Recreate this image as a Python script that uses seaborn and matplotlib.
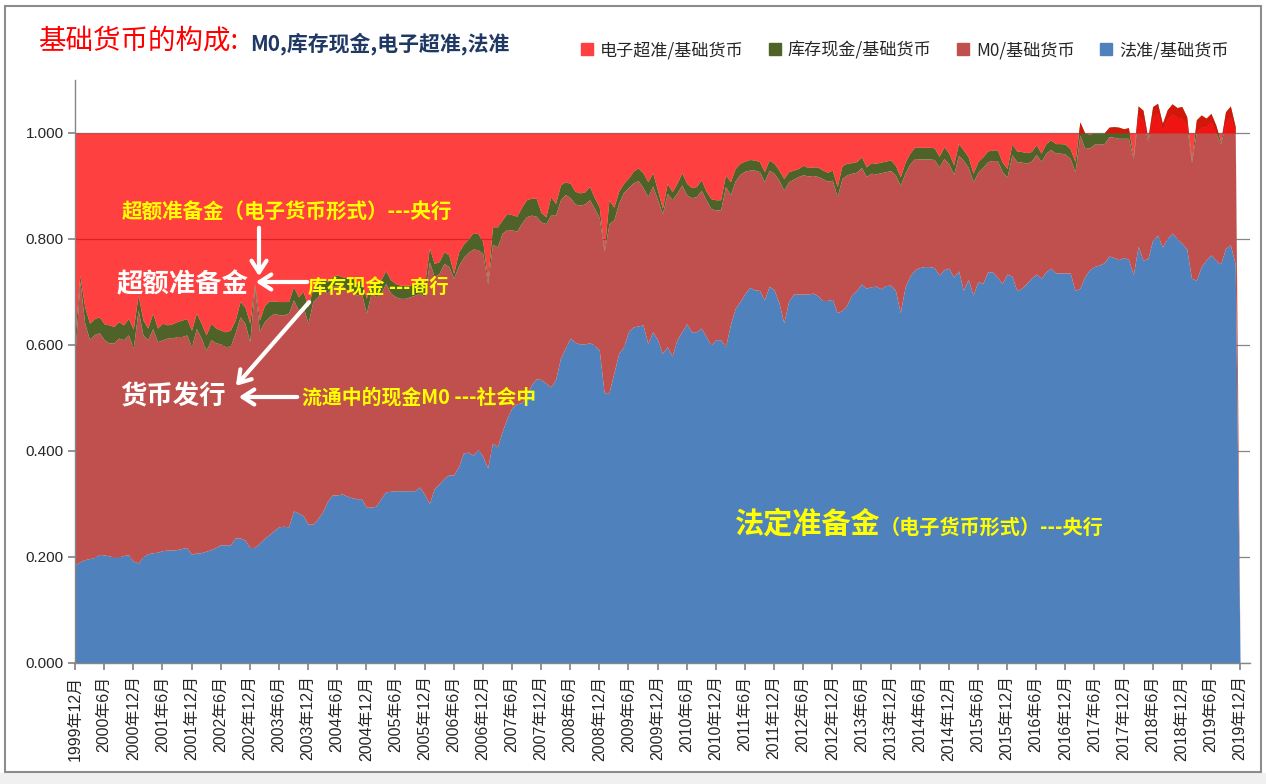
import numpy as np
import matplotlib
matplotlib.use("Agg")
import matplotlib.pyplot as plt
from matplotlib.patches import Patch, Rectangle
from matplotlib.ticker import FormatStrFormatter
import seaborn as sns

# monthly shares of base money, 1999-12 ... 2019-12 (2019-12 has no data yet)
# 法准/基础货币
fa = [0.185,
      0.191, 0.195, 0.197, 0.199, 0.205, 0.204, 0.202, 0.200, 0.200, 0.203, 0.204, 0.192,  # 2000
      0.189, 0.200, 0.206, 0.208, 0.209, 0.212, 0.213, 0.213, 0.214, 0.216, 0.218, 0.205,  # 2001
      0.208, 0.208, 0.211, 0.214, 0.218, 0.223, 0.223, 0.223, 0.236, 0.236, 0.232, 0.218,  # 2002
      0.218, 0.226, 0.235, 0.242, 0.250, 0.257, 0.258, 0.257, 0.287, 0.283, 0.278, 0.262,  # 2003
      0.262, 0.272, 0.285, 0.305, 0.317, 0.317, 0.319, 0.315, 0.312, 0.310, 0.310, 0.294,  # 2004
      0.294, 0.296, 0.310, 0.323, 0.324, 0.325, 0.325, 0.325, 0.325, 0.325, 0.332, 0.318,  # 2005
      0.301, 0.329, 0.338, 0.348, 0.355, 0.355, 0.370, 0.396, 0.398, 0.392, 0.403, 0.390,  # 2006
      0.368, 0.415, 0.408, 0.437, 0.462, 0.482, 0.489, 0.491, 0.505, 0.525, 0.536, 0.535,  # 2007
      0.528, 0.521, 0.535, 0.575, 0.594, 0.613, 0.605, 0.602, 0.602, 0.604, 0.600, 0.590,  # 2008
      0.510, 0.510, 0.547, 0.584, 0.597, 0.625, 0.634, 0.636, 0.638, 0.603, 0.625, 0.610,  # 2009
      0.584, 0.597, 0.579, 0.610, 0.625, 0.640, 0.625, 0.625, 0.632, 0.616, 0.600, 0.610,  # 2010
      0.610, 0.597, 0.638, 0.669, 0.682, 0.697, 0.709, 0.704, 0.703, 0.685, 0.711, 0.704,  # 2011
      0.680, 0.642, 0.682, 0.696, 0.696, 0.696, 0.696, 0.698, 0.693, 0.684, 0.684, 0.686,  # 2012
      0.661, 0.665, 0.675, 0.695, 0.703, 0.715, 0.707, 0.710, 0.711, 0.706, 0.712, 0.713,  # 2013
      0.703, 0.661, 0.710, 0.730, 0.742, 0.746, 0.748, 0.748, 0.746, 0.732, 0.742, 0.745,  # 2014
      0.728, 0.740, 0.703, 0.724, 0.694, 0.720, 0.716, 0.738, 0.738, 0.728, 0.716, 0.734,  # 2015
      0.730, 0.703, 0.707, 0.716, 0.726, 0.734, 0.726, 0.738, 0.745, 0.736, 0.736, 0.736,  # 2016
      0.736, 0.703, 0.707, 0.729, 0.742, 0.748, 0.751, 0.755, 0.768, 0.765, 0.761, 0.765,  # 2017
      0.762, 0.732, 0.786, 0.760, 0.763, 0.798, 0.807, 0.785, 0.801, 0.811, 0.801, 0.792,  # 2018
      0.782, 0.726, 0.722, 0.748, 0.760, 0.770, 0.760, 0.753, 0.782, 0.789, 0.753, 0.000]  # 2019

# M0/基础货币
m0 = [0.400,
      0.529, 0.446, 0.413, 0.421, 0.418, 0.406, 0.402, 0.404, 0.413, 0.407, 0.415, 0.402,
      0.477, 0.419, 0.404, 0.423, 0.397, 0.398, 0.400, 0.400, 0.402, 0.400, 0.401, 0.392,
      0.423, 0.405, 0.379, 0.396, 0.386, 0.379, 0.374, 0.375, 0.387, 0.417, 0.409, 0.388,
      0.493, 0.400, 0.409, 0.411, 0.410, 0.400, 0.399, 0.403, 0.398, 0.383, 0.394, 0.379,
      0.420, 0.419, 0.419, 0.393, 0.394, 0.394, 0.392, 0.389, 0.395, 0.384, 0.388, 0.366,
      0.404, 0.395, 0.388, 0.393, 0.374, 0.366, 0.363, 0.363, 0.366, 0.369, 0.366, 0.373,
      0.456, 0.400, 0.397, 0.406, 0.393, 0.371, 0.380, 0.369, 0.377, 0.389, 0.377, 0.382,
      0.348, 0.375, 0.377, 0.374, 0.356, 0.335, 0.326, 0.339, 0.337, 0.320, 0.307, 0.297,
      0.301, 0.324, 0.310, 0.299, 0.290, 0.265, 0.261, 0.262, 0.264, 0.270, 0.258, 0.250,
      0.266, 0.319, 0.289, 0.284, 0.291, 0.272, 0.272, 0.274, 0.259, 0.277, 0.275, 0.264,
      0.264, 0.289, 0.295, 0.277, 0.277, 0.243, 0.253, 0.255, 0.260, 0.258, 0.257, 0.245,
      0.245, 0.302, 0.245, 0.241, 0.240, 0.231, 0.221, 0.226, 0.224, 0.223, 0.219, 0.220,
      0.231, 0.250, 0.226, 0.217, 0.222, 0.225, 0.223, 0.222, 0.225, 0.230, 0.225, 0.225,
      0.219, 0.249, 0.246, 0.229, 0.223, 0.220, 0.211, 0.214, 0.212, 0.219, 0.215, 0.216,
      0.218, 0.240, 0.215, 0.212, 0.210, 0.205, 0.203, 0.203, 0.204, 0.204, 0.210, 0.197,
      0.194, 0.218, 0.245, 0.211, 0.214, 0.206, 0.219, 0.208, 0.210, 0.220, 0.211, 0.183,
      0.229, 0.243, 0.238, 0.227, 0.221, 0.226, 0.220, 0.224, 0.224, 0.226, 0.226, 0.224,
      0.216, 0.224, 0.289, 0.242, 0.230, 0.231, 0.228, 0.225, 0.225, 0.227, 0.229, 0.225,
      0.228, 0.220, 0.248, 0.264, 0.222, 0.232, 0.230, 0.221, 0.226, 0.225, 0.229, 0.236,
      0.233, 0.219, 0.281, 0.263, 0.252, 0.251, 0.240, 0.227, 0.238, 0.242, 0.247, 0.000]

# 库存现金/基础货币
kc = [0.035,
      0.012, 0.031, 0.031, 0.030, 0.030, 0.030, 0.034, 0.031, 0.031, 0.028, 0.031, 0.036,
      0.028, 0.028, 0.022, 0.029, 0.026, 0.031, 0.025, 0.027, 0.028, 0.031, 0.031, 0.031,
      0.029, 0.028, 0.029, 0.031, 0.028, 0.026, 0.028, 0.030, 0.024, 0.029, 0.031, 0.035,
      0.005, 0.021, 0.030, 0.030, 0.023, 0.025, 0.025, 0.022, 0.025, 0.025, 0.029, 0.031,
      0.025, 0.025, 0.022, 0.022, 0.018, 0.021, 0.018, 0.022, 0.022, 0.022, 0.025, 0.028,
      0.025, 0.025, 0.025, 0.024, 0.025, 0.025, 0.025, 0.025, 0.022, 0.022, 0.025, 0.022,
      0.026, 0.025, 0.022, 0.022, 0.022, 0.009, 0.025, 0.025, 0.025, 0.031, 0.030, 0.023,
      0.007, 0.033, 0.038, 0.025, 0.030, 0.029, 0.028, 0.030, 0.032, 0.032, 0.034, 0.018,
      0.013, 0.035, 0.022, 0.028, 0.024, 0.027, 0.024, 0.023, 0.023, 0.025, 0.020, 0.020,
      0.003, 0.045, 0.024, 0.022, 0.017, 0.018, 0.022, 0.024, 0.028, 0.028, 0.025, 0.018,
      0.010, 0.019, 0.015, 0.018, 0.023, 0.022, 0.019, 0.019, 0.020, 0.016, 0.019, 0.019,
      0.019, 0.022, 0.025, 0.023, 0.021, 0.019, 0.020, 0.019, 0.019, 0.019, 0.019, 0.019,
      0.019, 0.022, 0.019, 0.017, 0.015, 0.018, 0.016, 0.016, 0.018, 0.016, 0.017, 0.019,
      0.019, 0.024, 0.022, 0.020, 0.020, 0.020, 0.018, 0.020, 0.020, 0.020, 0.020, 0.020,
      0.018, 0.016, 0.020, 0.020, 0.022, 0.022, 0.022, 0.022, 0.022, 0.020, 0.022, 0.020,
      0.018, 0.022, 0.020, 0.020, 0.016, 0.020, 0.020, 0.020, 0.020, 0.020, 0.018, 0.016,
      0.020, 0.020, 0.020, 0.020, 0.018, 0.018, 0.016, 0.018, 0.018, 0.018, 0.018, 0.019,
      0.018, 0.019, 0.025, 0.029, 0.026, 0.021, 0.021, 0.020, 0.018, 0.020, 0.021, 0.018,
      0.020, 0.003, 0.017, 0.019, 0.005, 0.020, 0.019, 0.012, 0.017, 0.019, 0.018, 0.022,
      0.016, 0.004, 0.022, 0.023, 0.016, 0.016, 0.015, 0.004, 0.020, 0.020, 0.012, 0.000]

tick_labels = ["1999年12月", "2000年6月", "2000年12月", "2001年6月", "2001年12月",
               "2002年6月", "2002年12月", "2003年6月", "2003年12月", "2004年6月",
               "2004年12月", "2005年6月", "2005年12月", "2006年6月", "2006年12月",
               "2007年6月", "2007年12月", "2008年6月", "2008年12月", "2009年6月",
               "2009年12月", "2010年6月", "2010年12月", "2011年6月", "2011年12月",
               "2012年6月", "2012年12月", "2013年6月", "2013年12月", "2014年6月",
               "2014年12月", "2015年6月", "2015年12月", "2016年6月", "2016年12月",
               "2017年6月", "2017年12月", "2018年6月", "2018年12月", "2019年6月",
               "2019年12月"]

fa = np.array(fa)
m0 = np.array(m0)
kc = np.array(kc)
# 电子超准 = 基础货币(=1) - 法准 - M0 - 库存现金 ; negative once the parts overshoot
three = fa + m0 + kc
cz = np.where(three > 0, 1.0 - three, 0.0)
x = np.arange(len(fa))

sns.set_theme(style="white")
plt.rcParams['font.family'] = ['Liberation Sans', 'Noto Sans CJK SC', 'DejaVu Sans']
cjk = ['Noto Sans CJK SC', 'DejaVu Sans']

W, H = 1266, 784
fig = plt.figure(figsize=(W / 100, H / 100), dpi=100)
fig.patch.set_facecolor('white')

def fx(px):
    return px / W

def fy(py):
    return 1 - py / H

# chart frame and grey strip below it
fig.patches.append(Rectangle((0, 0), 1, fy(773), transform=fig.transFigure,
                             facecolor='#f0f0f0', edgecolor='none', zorder=-10))
fig.patches.append(Rectangle((fx(5), fy(772)), fx(1261) - fx(5), fy(6) - fy(772),
                             transform=fig.transFigure, facecolor='white',
                             edgecolor='#8c8c8c', lw=1.5, zorder=-9))

ax = fig.add_axes([fx(75), fy(663), fx(1250) - fx(75), fy(80) - fy(663)])
ax.set_zorder(2)
ax.set_facecolor('none')

c_fa, c_m0, c_kc, c_cz = '#4F81BD', '#C0504D', '#4F6228', '#FF0000'
polys = ax.stackplot(x, fa, m0, kc, cz, colors=[c_fa, c_m0, c_kc, c_cz], lw=0)
polys[3].set_alpha(0.75)

ax.set_xlim(0, 242.05)
ax.set_ylim(0, 1.1)
ax.set_yticks([0, 0.2, 0.4, 0.6, 0.8, 1.0])
ax.yaxis.set_major_formatter(FormatStrFormatter('%.3f'))
ax.set_xticks(np.arange(0, 241, 6))
ax.set_xticklabels(tick_labels, rotation=90, fontsize=11.5)
ax.tick_params(axis='y', labelsize=11, length=5, color='#868686', direction='out', left=True, pad=3)
ax.tick_params(axis='x', length=5, color='#868686', direction='out', bottom=True, pad=4)
ax.set_axisbelow(True)
ax.yaxis.grid(True, color='#868686', lw=0.9)
ax.xaxis.grid(False)
sns.despine(ax=ax, top=True, right=True)
for s in ['left', 'bottom']:
    ax.spines[s].set_color('#868686')
    ax.spines[s].set_linewidth(1.0)

# title
fig.text(fx(38), fy(41), "基础货币的构成:", color='#FF0000', fontsize=19.8,
         family=cjk, weight='medium', va='center', ha='left')
fig.text(fx(250), fy(44), "M0,库存现金,电子超准,法准", color='#1F3864', fontsize=15,
         family=cjk, weight='bold', va='center', ha='left')

# legend
handles = [Patch(color='#FF4040'), Patch(color=c_kc), Patch(color=c_m0), Patch(color=c_fa)]
labels = ["电子超准/基础货币", "库存现金/基础货币", "M0/基础货币", "法准/基础货币"]
fig.legend(handles, labels, loc='center right', bbox_to_anchor=(fx(1244), fy(50)),
           ncol=4, frameon=False, prop={'family': cjk, 'size': 12.3},
           handlelength=0.7, handleheight=0.7, handletextpad=0.4, columnspacing=1.5)

# annotations
yel = '#FFFF00'
fig.text(fx(122), fy(212), "超额准备金（电子货币形式）---央行", color=yel, fontsize=14.8,
         family=cjk, weight='bold', va='center', zorder=5)
fig.text(fx(117), fy(285), "超额准备金", color='white', fontsize=19, family=cjk,
         weight='heavy', va='center', zorder=5)
fig.text(fx(308), fy(287), "库存现金 ---商行", color=yel, fontsize=13.8, family=cjk,
         weight='bold', va='center', zorder=5)
fig.text(fx(120), fy(397), "货币发行", color='white', fontsize=19, family=cjk,
         weight='heavy', va='center', zorder=5)
fig.text(fx(302), fy(397), "流通中的现金M0 ---社会中", color=yel, fontsize=14.3, family=cjk,
         weight='bold', va='center', zorder=5)
fig.text(fx(735), fy(524), "法定准备金", color=yel, fontsize=21, family=cjk,
         weight='bold', va='center', zorder=5)
fig.text(fx(880), fy(527), "（电子货币形式）---央行", color=yel, fontsize=14.5, family=cjk,
         weight='bold', va='center', zorder=5)

arrow = dict(arrowstyle='->,head_length=0.7,head_width=0.45', color='white', lw=3)
for (x0, y0), (x1, y1) in [((259, 225), (259, 279)),
                           ((310, 282), (253, 282)),
                           ((311, 300), (234, 388)),
                           ((300, 397), (236, 397))]:
    ax.annotate("", xy=(fx(x1), fy(y1)), xytext=(fx(x0), fy(y0)),
                xycoords='figure fraction', textcoords='figure fraction',
                arrowprops=arrow, zorder=6)

fig.savefig("out.png", dpi=100, facecolor=fig.get_facecolor())
